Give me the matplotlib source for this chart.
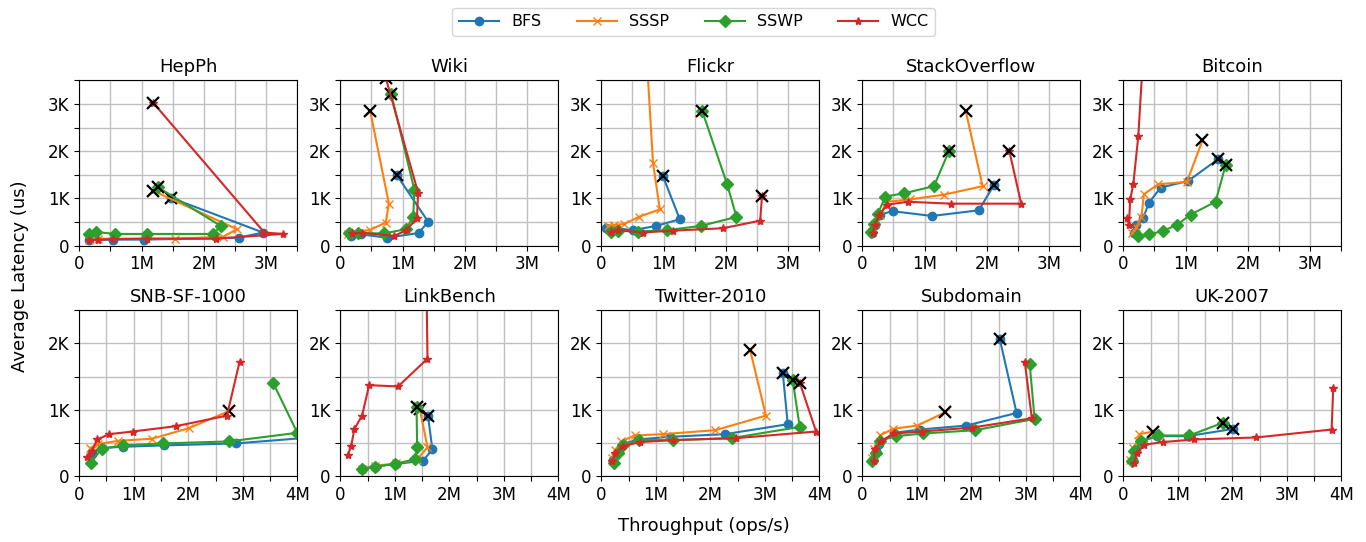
import matplotlib
matplotlib.use("Agg")
import matplotlib.pyplot as plt
from matplotlib.ticker import MultipleLocator, FuncFormatter

# throughput in M ops/s, latency in K us
ALGOS = ["BFS", "SSSP", "SSWP", "WCC"]
COLORS = ["tab:blue", "tab:orange", "tab:green", "tab:red"]
MARKERS = ["o", "x", "D", "*"]
MSIZES = [6, 6, 6, 6]
DATASETS = ["HepPh", "Wiki", "Flickr", "StackOverflow", "Bitcoin",
            "SNB-SF-1000", "LinkBench", "Twitter-2010", "Subdomain", "UK-2007"]

hepph_x = [[0.16, 0.55, 1.04, 2.56, 2.95, 1.48],
           [0.16, 0.3, 1.53, 2.31, 2.53, 1.19],
           [0.16, 0.27, 0.58, 1.08, 2.15, 2.27, 1.26],
           [0.16, 0.3, 0.55, 1.08, 2.19, 3.27, 2.97, 1.19]]
hepph_y = [[0.12, 0.13, 0.13, 0.17, 0.28, 1.01],
           [0.13, 0.15, 0.15, 0.19, 0.35, 1.16],
           [0.25, 0.29, 0.25, 0.25, 0.25, 0.42, 1.24],
           [0.12, 0.13, 0.14, 0.15, 0.15, 0.25, 0.28, 3.02]]

wiki_x = [[0.18, 0.34, 0.75, 1.26, 1.41, 0.91],
          [0.12, 0.23, 0.47, 0.73, 0.78, 0.48],
          [0.14, 0.28, 0.7, 1.05, 1.17, 1.19, 0.82],
          [0.19, 0.35, 0.87, 1.06, 1.23, 1.25, 0.73]]
wiki_y = [[0.21, 0.24, 0.17, 0.27, 0.51, 1.49],
          [0.24, 0.3, 0.33, 0.49, 0.89, 2.85],
          [0.26, 0.27, 0.26, 0.35, 0.6, 1.18, 3.2],
          [0.26, 0.27, 0.21, 0.33, 0.58, 1.12, 3.55]]

flickr_x = [[0.08, 0.24, 0.51, 0.88, 1.26, 0.99],
            [0.1, 0.21, 0.37, 0.6, 0.94, 0.83, 0.72],
            [0.15, 0.27, 0.59, 1.06, 1.6, 2.17, 2.02, 1.62],
            [0.16, 0.27, 0.67, 1.15, 1.95, 2.55, 2.58]]
flickr_y = [[0.38, 0.37, 0.33, 0.42, 0.56, 1.47],
            [0.42, 0.44, 0.46, 0.61, 0.77, 1.75, 4.2],
            [0.3, 0.32, 0.3, 0.33, 0.42, 0.61, 1.3, 2.85],
            [0.3, 0.33, 0.28, 0.32, 0.37, 0.53, 1.06]]

so_x = [[0.16, 0.2, 0.28, 0.49, 1.12, 1.87, 2.11],
        [0.16, 0.2, 0.28, 0.4, 0.76, 1.31, 1.93, 1.66],
        [0.14, 0.18, 0.25, 0.37, 0.67, 1.15, 1.39],
        [0.17, 0.2, 0.27, 0.4, 0.73, 1.43, 2.55, 2.36]]
so_y = [[0.27, 0.44, 0.66, 0.73, 0.63, 0.75, 1.28],
        [0.3, 0.47, 0.65, 0.93, 0.98, 1.08, 1.26, 2.85],
        [0.3, 0.46, 0.68, 1.04, 1.11, 1.26, 2.0],
        [0.27, 0.44, 0.65, 0.87, 0.93, 0.89, 0.89, 2.0]]

bitcoin_x = [[0.17, 0.21, 0.32, 0.41, 0.6, 1.04, 1.52],
             [0.14, 0.21, 0.29, 0.33, 0.56, 1.02, 1.27],
             [0.24, 0.41, 0.63, 0.86, 1.08, 1.48, 1.64],
             [0.06, 0.09, 0.11, 0.16, 0.24, 0.33]]
bitcoin_y = [[0.26, 0.44, 0.59, 0.91, 1.23, 1.37, 1.83],
             [0.26, 0.4, 0.61, 1.09, 1.3, 1.35, 2.23],
             [0.2, 0.24, 0.31, 0.44, 0.66, 0.93, 1.7],
             [0.58, 0.44, 0.98, 1.3, 2.32, 4.3]]

snb_x = [[0.23, 0.41, 0.81, 1.55, 2.87, 4.4],
         [0.2, 0.35, 0.72, 1.33, 2.01, 2.75],
         [0.21, 0.41, 0.8, 1.53, 2.74, 4.0, 3.56],
         [0.15, 0.23, 0.33, 0.55, 0.98, 1.77, 2.71, 2.94]]
snb_y = [[0.34, 0.42, 0.44, 0.46, 0.49, 0.59],
         [0.42, 0.48, 0.53, 0.56, 0.72, 0.98],
         [0.19, 0.41, 0.46, 0.49, 0.52, 0.65, 1.4],
         [0.29, 0.37, 0.55, 0.63, 0.67, 0.75, 0.91, 1.72]]

link_x = [[0.39, 0.63, 1.03, 1.52, 1.69, 1.61],
          [0.39, 0.63, 1.02, 1.4, 1.6, 1.46],
          [0.39, 0.63, 1.0, 1.37, 1.41, 1.4],
          [0.14, 0.2, 0.26, 0.4, 0.53, 1.06, 1.6, 1.58]]
link_y = [[0.11, 0.14, 0.18, 0.23, 0.4, 0.9],
          [0.11, 0.15, 0.19, 0.24, 0.43, 1.01],
          [0.1, 0.14, 0.18, 0.25, 0.43, 1.04],
          [0.32, 0.45, 0.71, 0.91, 1.37, 1.35, 1.77, 3.0]]

twitter_x = [[0.21, 0.28, 0.4, 0.67, 1.26, 2.27, 3.42, 3.33],
             [0.2, 0.25, 0.37, 0.61, 1.13, 2.09, 3.02, 2.73],
             [0.23, 0.31, 0.4, 0.69, 1.32, 2.39, 3.64, 3.51],
             [0.2, 0.26, 0.4, 0.71, 1.32, 2.48, 3.94, 3.64]]
twitter_y = [[0.24, 0.35, 0.48, 0.55, 0.59, 0.63, 0.78, 1.55],
             [0.27, 0.39, 0.52, 0.61, 0.63, 0.69, 0.91, 1.9],
             [0.19, 0.34, 0.47, 0.54, 0.54, 0.57, 0.74, 1.45],
             [0.22, 0.34, 0.45, 0.51, 0.54, 0.57, 0.67, 1.41]]

subdomain_x = [[0.2, 0.25, 0.31, 0.58, 1.06, 1.91, 2.83, 2.52],
               [0.18, 0.21, 0.32, 0.56, 1.01, 1.52],
               [0.18, 0.25, 0.33, 0.61, 1.12, 2.07, 3.16, 3.07],
               [0.21, 0.23, 0.35, 0.58, 1.09, 2.02, 3.11, 2.98]]
subdomain_y = [[0.24, 0.37, 0.48, 0.65, 0.7, 0.76, 0.95, 2.07],
               [0.27, 0.4, 0.61, 0.71, 0.76, 0.96],
               [0.23, 0.34, 0.53, 0.6, 0.64, 0.69, 0.86, 1.69],
               [0.23, 0.4, 0.53, 0.64, 0.67, 0.73, 0.87, 1.72]]

uk_x = [[0.17, 0.23, 0.33, 0.61, 1.18, 2.02],
        [0.13, 0.18, 0.26, 0.29, 0.55],
        [0.15, 0.2, 0.32, 0.64, 1.21, 1.82],
        [0.2, 0.25, 0.38, 0.72, 1.3, 2.44, 3.82, 3.85]]
uk_y = [[0.24, 0.39, 0.52, 0.6, 0.6, 0.71],
        [0.24, 0.42, 0.52, 0.63, 0.67],
        [0.23, 0.38, 0.52, 0.61, 0.61, 0.8],
        [0.19, 0.34, 0.47, 0.51, 0.55, 0.58, 0.7, 1.32]]

# which series end in a black cross (BFS, SSSP, SSWP, WCC)
hepph_end = [True, True, True, True]
wiki_end = [True, True, True, True]
flickr_end = [True, True, True, True]
so_end = [True, True, True, True]
bitcoin_end = [True, True, True, True]
snb_end = [False, True, False, False]
link_end = [True, True, True, False]
twitter_end = [True, True, True, True]
subdomain_end = [True, True, False, False]
uk_end = [True, True, True, False]

all_x = [hepph_x, wiki_x, flickr_x, so_x, bitcoin_x,
         snb_x, link_x, twitter_x, subdomain_x, uk_x]
all_y = [hepph_y, wiki_y, flickr_y, so_y, bitcoin_y,
         snb_y, link_y, twitter_y, subdomain_y, uk_y]
all_end = [hepph_end, wiki_end, flickr_end, so_end, bitcoin_end,
           snb_end, link_end, twitter_end, subdomain_end, uk_end]


def fmt(suffix):
    def f(v, pos):
        if abs(v) < 1e-9:
            return "0"
        if abs(v - round(v)) < 1e-9:
            return "%d%s" % (round(v), suffix)
        return ""
    return FuncFormatter(f)


fig, axes = plt.subplots(2, 5, figsize=(13.66, 5.42), dpi=100)
fig.subplots_adjust(left=0.058, right=0.982, top=0.852, bottom=0.122,
                    wspace=0.197, hspace=0.39)

for i, ax in enumerate(axes.flat):
    top_row = i < 5
    ax.set_axisbelow(True)
    ax.grid(True, color="#c0c0c0", linewidth=1.0)
    for k in range(4):
        xs, ys = all_x[i][k], all_y[i][k]
        ax.plot(xs, ys, color=COLORS[k], marker=MARKERS[k],
                markersize=MSIZES[k], linewidth=1.5,
                label=ALGOS[k] if i == 0 else None)
        if all_end[i][k]:
            ax.plot(xs[-1], ys[-1], marker="x", color="black",
                    markersize=9, markeredgewidth=1.6, linestyle="none")
    ax.set_title(DATASETS[i], fontsize=13)
    if top_row:
        ax.set_xlim(0, 3.5)
        ax.set_ylim(0, 3.5)
    else:
        ax.set_xlim(0, 4)
        ax.set_ylim(0, 2.5)
    ax.xaxis.set_major_locator(MultipleLocator(0.5))
    ax.yaxis.set_major_locator(MultipleLocator(0.5))
    ax.xaxis.set_major_formatter(fmt("M"))
    ax.yaxis.set_major_formatter(fmt("K"))
    ax.tick_params(labelsize=12)

fig.legend(loc="upper center", ncol=4, bbox_to_anchor=(0.508, 1.0),
           fontsize=11.5, frameon=True, columnspacing=2.2, handlelength=2.5)
fig.text(0.515, 0.02, "Throughput (ops/s)", ha="center", fontsize=13)
fig.text(0.008, 0.49, "Average Latency (us)", va="center", rotation=90, fontsize=13)

fig.savefig("out.png", dpi=100)
